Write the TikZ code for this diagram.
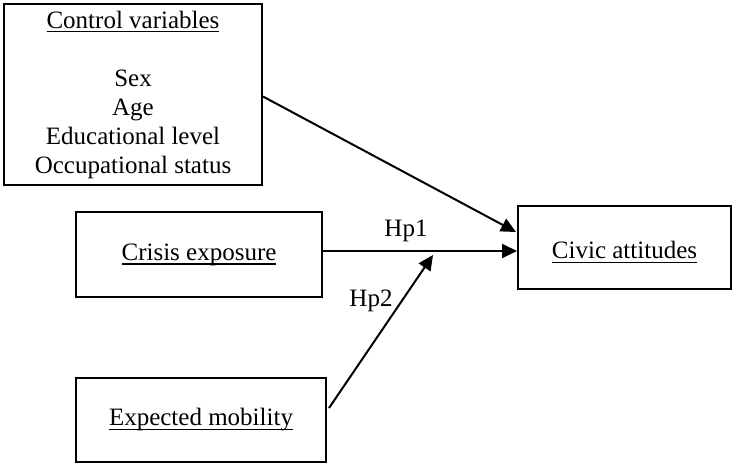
\documentclass[tikz,border=0pt]{standalone}
\usepackage{fontspec}
\setmainfont{Liberation Serif}
\usetikzlibrary{arrows.meta,calc}
\newcommand\ulx[1]{\setbox0\hbox{#1}\rlap{\rule[-2.2pt]{\wd0}{0.6pt}}\box0}
\begin{document}
\begin{tikzpicture}[x=0.5pt,y=-0.5pt,
  box/.style={draw,line width=1pt,inner sep=0pt,align=center,font=\fontsize{12.5}{14.5}\selectfont},
  arr/.style={line width=1pt,-{Triangle[length=7.5pt,width=7pt]}},
  lbl/.style={font=\fontsize{12.5}{14.5}\selectfont}]
\useasboundingbox (0,0) rectangle (733,463);
\node[box,minimum width=129pt,minimum height=90.5pt] (ctrl) at (133,94.5)
  {\ulx{Control variables}\\\strut\\Sex\\Age\\Educational level\\Occupational status};
\node[box,minimum width=123pt,minimum height=42.5pt] (crisis) at (199,254.5) {\ulx{Crisis exposure}};
\node[box,minimum width=106.5pt,minimum height=41.5pt] (civic) at (624.5,247.5)
  {\raisebox{-2.5pt}[\height][\depth]{\ulx{Civic attitudes}}};
\node[box,minimum width=125pt,minimum height=42pt] (mob) at (201,420) {\ulx{Expected mobility}};
\coordinate (ctip) at (516,232);
\coordinate (h1s) at ($(crisis.east)+(0,-3.5)$);
\coordinate (h2s) at (329,408);
\coordinate (h2t) at (433,255);
\draw[arr] (ctrl.east) ++(0,2) -- (ctip);
\draw[arr] (h1s) -- (h1s -| civic.west);
\draw[arr] (h2s) -- (h2t);
\node[lbl] (hp1) at (406,231) {Hp1};
\node[lbl] (hp2) at (371,301) {Hp2};
\end{tikzpicture}
\end{document}
